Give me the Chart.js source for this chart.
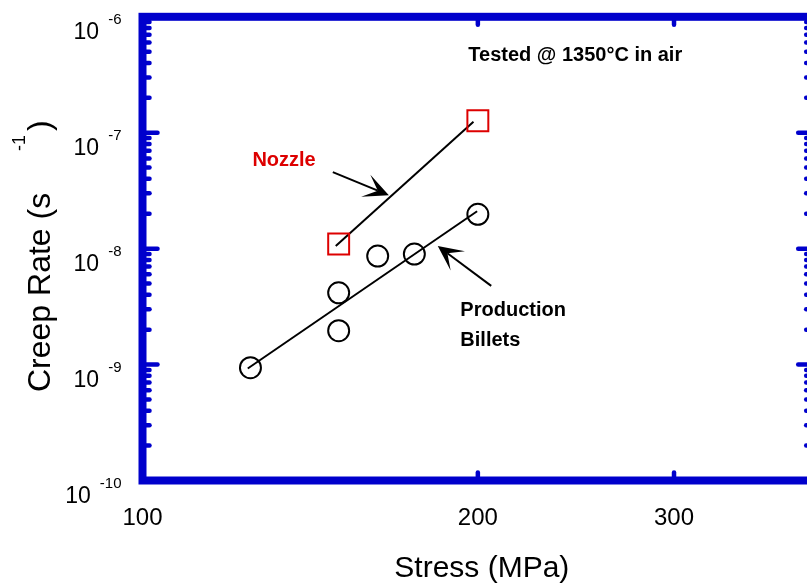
<!DOCTYPE html>
<html>
<head>
<meta charset="utf-8">
<script src="https://cdn.jsdelivr.net/npm/chart.js@4.4.1/dist/chart.umd.min.js"></script>
<style>
  html, body { margin: 0; padding: 0; background: #fff; overflow: hidden; }
  #wrap { width: 830px; height: 588px; }
</style>
</head>
<body>
<div id="wrap"><canvas id="myChart" width="830" height="588"></canvas></div>
<script>
// production billets (stress MPa, creep rate 1/s)
const billetStress = [125, 150, 150, 162.6, 175.4, 200]
const billetRate = [9.4e-10, 4.16e-9, 1.96e-9, 8.64e-9, 8.99e-9, 1.98e-8]
// nozzle
const nozzleStress = [150, 200]
const nozzleRate = [1.095e-8, 1.27e-7]
// fitted lines
const billetFitStress = [124.3, 199.7]
const billetFitRate = [9.25e-10, 2.1e-8]
const nozzleFitStress = [149.1, 198.2]
const nozzleFitRate = [1.053e-8, 1.246e-7]

const xTicks = [100, 200, 300]
const xTickLabels = ["100", "200", "300"]
const yTicks = [1e-10, 1e-9, 1e-8, 1e-7, 1e-6]
const yTickExp = ["-10", "-9", "-8", "-7", "-6"]

// annotations, placed in data coordinates
const notes = [
  { text: "Tested @ 1350°C in air", x: 196.1, y: 4.14e-7, color: "#000" },
  { text: "Nozzle", x: 125.5, y: 5.19e-8, color: "#dd0000" },
  { text: "Production", x: 192.9, y: 2.64e-9, color: "#000" },
  { text: "Billets", x: 192.9, y: 1.457e-9, color: "#000" },
]
const arrows = [
  { from: [148.2, 4.575e-8], to: [166.4, 2.886e-8] },
  { from: [205.6, 4.773e-9], to: [184.1, 1.053e-8] },
]

const FONT = '"Liberation Sans", Arial, sans-serif'
const blue = "#0000cc"
const toXY = (xs, ys) => xs.map((v, i) => ({ x: v, y: ys[i] }))

const frame = {
  id: "frame",
  afterDraw(chart) {
    const { ctx, chartArea: a, scales: { x, y } } = chart
    ctx.save()

    // ticks (inward)
    ctx.strokeStyle = blue
    ctx.lineCap = "round"
    ctx.lineWidth = 4.5
    const line = (x1, y1, x2, y2) => {
      ctx.beginPath()
      ctx.moveTo(x1, y1)
      ctx.lineTo(x2, y2)
      ctx.stroke()
    }
    yTicks.forEach((v, i) => {
      const py = y.getPixelForValue(v)
      if (i > 0 && i < yTicks.length - 1) {
        line(a.left, py, a.left + 15, py)
        line(a.right, py, a.right - 15, py)
      }
      if (i < yTicks.length - 1) {
        for (let m = 2; m <= 9; m++) {
          const pm = y.getPixelForValue(v * m)
          line(a.left, pm, a.left + 7, pm)
          line(a.right, pm, a.right - 7, pm)
        }
      }
    })
    xTicks.slice(1).forEach(v => {
      const px = x.getPixelForValue(v)
      line(px, a.bottom, px, a.bottom - 8)
      line(px, a.top, px, a.top + 8)
    })

    // box
    ctx.lineWidth = 8
    ctx.lineCap = "butt"
    ctx.lineJoin = "miter"
    ctx.strokeRect(a.left, a.top, a.right - a.left, a.bottom - a.top)

    // tick labels
    ctx.fillStyle = "#000"
    ctx.textBaseline = "alphabetic"
    yTicks.forEach((v, i) => {
      const py = y.getPixelForValue(v)
      ctx.font = "15px " + FONT
      ctx.textAlign = "right"
      const right = a.left - 21
      const supW = ctx.measureText(yTickExp[i]).width
      ctx.fillText(yTickExp[i], right, py + 7)
      ctx.font = "23px " + FONT
      ctx.fillText("10", right - supW - 9, py + 22)
    })
    ctx.font = "24px " + FONT
    ctx.textAlign = "center"
    xTicks.forEach((v, i) => {
      ctx.fillText(xTickLabels[i], x.getPixelForValue(v), a.bottom + 44)
    })

    // axis titles
    ctx.font = "30px " + FONT
    ctx.fillText("Stress (MPa)", (a.left + a.right) / 2 + 4, a.bottom + 96)
    ctx.save()
    ctx.translate(50, 392)
    ctx.rotate(-Math.PI / 2)
    ctx.textAlign = "left"
    ctx.font = "32px " + FONT
    ctx.fillText("Creep Rate (s", 0, 0)
    ctx.fillText(")", 261, 0)
    ctx.font = "18px " + FONT
    ctx.fillText("-1", 241, -25)
    ctx.restore()

    // notes
    ctx.font = "bold 20px " + FONT
    ctx.textAlign = "left"
    notes.forEach(n => {
      ctx.fillStyle = n.color
      ctx.fillText(n.text, x.getPixelForValue(n.x), y.getPixelForValue(n.y))
    })

    // arrows
    ctx.strokeStyle = "#000"
    ctx.fillStyle = "#000"
    ctx.lineWidth = 2
    arrows.forEach(ar => {
      const x0 = x.getPixelForValue(ar.from[0]), y0 = y.getPixelForValue(ar.from[1])
      const x1 = x.getPixelForValue(ar.to[0]), y1 = y.getPixelForValue(ar.to[1])
      const len = Math.hypot(x1 - x0, y1 - y0)
      const ux = (x1 - x0) / len, uy = (y1 - y0) / len
      const px = -uy, py = ux
      line(x0, y0, x1 - ux * 12, y1 - uy * 12)
      ctx.beginPath()
      ctx.moveTo(x1, y1)
      ctx.lineTo(x1 - ux * 25 + px * 12, y1 - uy * 25 + py * 12)
      ctx.lineTo(x1 - ux * 12, y1 - uy * 12)
      ctx.lineTo(x1 - ux * 25 - px * 12, y1 - uy * 25 - py * 12)
      ctx.closePath()
      ctx.fill()
    })
    ctx.restore()
  },
}

const ctx = document.getElementById("myChart")
const myChart = new Chart(ctx, {
  type: "scatter",
  data: {
    datasets: [
      {
        label: "Production Billets",
        data: toXY(billetStress, billetRate),
        pointStyle: "circle",
        pointRadius: 10.5,
        borderColor: "#000",
        borderWidth: 2,
        backgroundColor: "rgba(0,0,0,0)",
      },
      {
        label: "Nozzle",
        data: toXY(nozzleStress, nozzleRate),
        pointStyle: "rect",
        pointRadius: 14.8,
        borderColor: "#dd0000",
        borderWidth: 2,
        backgroundColor: "rgba(0,0,0,0)",
      },
      {
        label: "Billets fit",
        data: toXY(billetFitStress, billetFitRate),
        showLine: true,
        pointRadius: 0,
        borderColor: "#000",
        borderWidth: 2,
      },
      {
        label: "Nozzle fit",
        data: toXY(nozzleFitStress, nozzleFitRate),
        showLine: true,
        pointRadius: 0,
        borderColor: "#000",
        borderWidth: 2,
      },
    ],
  },
  options: {
    responsive: false,
    animation: false,
    layout: { padding: { left: 142.5, right: 15.5, top: 14.7, bottom: 107.5 } },
    scales: {
      x: { type: "logarithmic", min: 100, max: 400, display: false },
      y: { type: "logarithmic", min: 1e-10, max: 1e-6, display: false },
    },
    plugins: {
      legend: { display: false },
      tooltip: { enabled: false },
    },
  },
  plugins: [frame],
})
</script>
</body>
</html>
